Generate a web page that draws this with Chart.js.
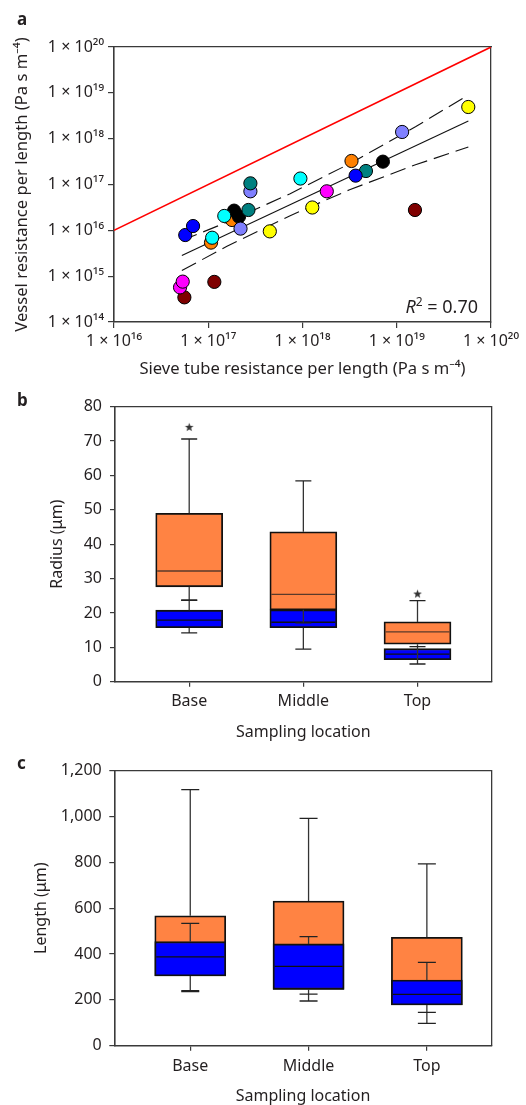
<!DOCTYPE html>
<html>
<head>
<meta charset="utf-8">
<title>Resistance per length and conduit dimensions</title>
<script src="https://cdn.jsdelivr.net/npm/chart.js@4.4.1/dist/chart.umd.min.js"></script>
<style>
  html, body { margin:0; padding:0; background:#fff; }
  body { width:526px; height:1105px; position:relative; overflow:hidden; }
  .panel { position:absolute; left:0; width:526px; }
  .panel canvas { display:block; }
  .tag { position:absolute; left:17px; font: bold 17px 'Noto Sans', sans-serif; color:#231f20; line-height:1; }
</style>
</head>
<body>
<div class="panel" style="top:0;height:385px"><canvas id="chartA" width="526" height="385"></canvas></div>
<div class="panel" style="top:385px;height:360px"><canvas id="chartB" width="526" height="360"></canvas></div>
<div class="panel" style="top:745px;height:360px"><canvas id="chartC" width="526" height="360"></canvas></div>
<div class="tag" style="top:10px">a</div>
<div class="tag" style="top:391px">b</div>
<div class="tag" style="top:754px">c</div>
<script>
// ---------------- Panel a data ----------------
const aXTickValues = [1e16, 1e17, 1e18, 1e19, 1e20];
const aXTickLabels = ['1 × 10¹⁶', '1 × 10¹⁷', '1 × 10¹⁸', '1 × 10¹⁹', '1 × 10²⁰'];
const aYTickValues = [1e14, 1e15, 1e16, 1e17, 1e18, 1e19, 1e20];
const aYTickLabels = ['1 × 10¹⁴', '1 × 10¹⁵', '1 × 10¹⁶', '1 × 10¹⁷', '1 × 10¹⁸', '1 × 10¹⁹', '1 × 10²⁰'];
const aXTitle = 'Sieve tube resistance per length (Pa s m⁻⁴)';
const aYTitle = 'Vessel resistance per length (Pa s m⁻⁴)';

const sieveOrange  = [1.07e17, 1.79e17, 3.31e18];
const vesselOrange = [5.4e15, 1.68e16, 3.26e17];
const sieveDarkRed  = [5.58e16, 1.16e17, 1.56e19];
const vesselDarkRed = [3.45e14, 7.5e14, 2.78e16];
const sieveBlack  = [1.88e17, 2.12e17, 7.13e18];
const vesselBlack = [2.69e16, 1.99e16, 3.15e17];
const sieveLilac  = [2.8e17, 2.2e17, 1.14e19];
const vesselLilac = [7.1e16, 1.09e16, 1.40e18];
const sieveTeal  = [2.67e17, 2.8e17, 4.71e18];
const vesselTeal = [2.78e16, 1.06e17, 1.97e17];
const sieveCyan  = [1.1e17, 1.48e17, 9.5e17];
const vesselCyan = [6.9e15, 2.06e16, 1.35e17];
const sieveMagenta  = [5.02e16, 5.36e16, 1.81e18];
const vesselMagenta = [5.7e14, 7.6e14, 7.1e16];
const sieveBlue  = [5.7e16, 6.9e16, 3.66e18];
const vesselBlue = [7.9e15, 1.24e16, 1.56e17];
const sieveYellow  = [4.5e17, 1.27e18, 5.74e19];
const vesselYellow = [9.5e15, 3.15e16, 4.91e18];

const identityX = [1e16, 1e20];
const identityY = [1e16, 1e20];
const fitX = [5.25e16, 5.75e19];
const fitY = [2.82e15, 2.43e18];
const bandX     = [5.25e16, 1.58e17, 7.4e17, 3.16e18, 1.58e19, 5.75e19];
const bandUpper = [6.0e15, 1.50e16, 6.32e16, 2.84e17, 1.82e18, 8.97e18];
const bandLower = [1.33e15, 4.48e15, 2.09e16, 7.69e16, 2.69e17, 6.58e17];
const r2Value = '0.70';

// ---------------- Panels b and c data ----------------
const categories = ['Base', 'Middle', 'Top'];
const samplingTitle = 'Sampling location';

const bTitle = 'Radius (μm)';
const bOrangeMin = [23.7, 17.1, 5.15];
const bOrangeQ1  = [27.6, 20.9, 10.9];
const bOrangeMed = [32.2, 25.4, 14.5];
const bOrangeQ3  = [49.0, 43.6, 17.4];
const bOrangeMax = [70.6, 58.4, 23.6];
const bBlueMin = [14.2, 9.5, 6.4];
const bBlueQ1  = [15.7, 15.7, 6.4];
const bBlueMed = [17.9, 17.3, 8.0];
const bBlueQ3  = [20.8, 20.9, 9.6];
const bBlueMax = [23.7, 20.9, 10.2];
const bOutlierCat = [0, 2];
const bOutlierVal = [74.0, 25.5];

const cTitle = 'Length (μm)';
const cTickValues = [0, 200, 400, 600, 800, 1000, 1200];
const cTickLabels = ['0', '200', '400', '600', '800', '1,000', '1,200'];
const cOrangeMin = [236, 195, 97.5];
const cOrangeQ1  = [304, 246, 177.5];
const cOrangeMed = [430, 420, 270];
const cOrangeQ3  = [567, 631, 473];
const cOrangeMax = [1117, 992, 793];
const cBlueMin = [240, 225, 145];
const cBlueQ1  = [304, 246, 177.5];
const cBlueMed = [388, 346, 224];
const cBlueQ3  = [454, 444, 286.5];
const cBlueMax = [534, 476, 364];

// ---------------- Styling ----------------
const FONT = "'Noto Sans', 'DejaVu Sans', sans-serif";
const TXT = '#231f20';
const AX = '#3a3a3a';
Chart.defaults.font.family = FONT;
Chart.defaults.color = TXT;
Chart.defaults.animation = false;

function frameAxes() {
  return {
    xTop: { position: 'top', type: 'linear', min: 0, max: 1, display: true,
      ticks: { display: false }, grid: { display: false },
      border: { display: true, color: AX, width: 1.3 }, afterFit: s => { s.height = 0; } },
    yRight: { position: 'right', type: 'linear', min: 0, max: 1, display: true,
      ticks: { display: false }, grid: { display: false },
      border: { display: true, color: AX, width: 1.3 }, afterFit: s => { s.width = 0; } }
  };
}

function pts(xs, ys) { return xs.map((x, i) => ({ x: x, y: ys[i] })); }

// ---------------- Panel a ----------------
const groups = [
  { xs: sieveOrange,  ys: vesselOrange,  color: '#FF8000' },
  { xs: sieveDarkRed, ys: vesselDarkRed, color: '#7F0000' },
  { xs: sieveBlack,   ys: vesselBlack,   color: '#000000' },
  { xs: sieveLilac,   ys: vesselLilac,   color: '#8080FF' },
  { xs: sieveTeal,    ys: vesselTeal,    color: '#008080' },
  { xs: sieveCyan,    ys: vesselCyan,    color: '#00FFFF' },
  { xs: sieveMagenta, ys: vesselMagenta, color: '#FF00FF' },
  { xs: sieveBlue,    ys: vesselBlue,    color: '#0000FF' },
  { xs: sieveYellow,  ys: vesselYellow,  color: '#FFFF00' }
];

const aDatasets = [
  { data: pts(identityX, identityY), showLine: true, borderColor: '#FF0000', borderWidth: 1.6, pointRadius: 0, fill: false, order: 40 },
  { data: pts(fitX, fitY), showLine: true, borderColor: '#111', borderWidth: 1.1, pointRadius: 0, fill: false, order: 39 },
  { data: pts(bandX, bandUpper), showLine: true, borderColor: '#111', borderWidth: 1.1, borderDash: [16, 7], pointRadius: 0, fill: false, order: 38 },
  { data: pts(bandX, bandLower), showLine: true, borderColor: '#111', borderWidth: 1.1, borderDash: [16, 7], pointRadius: 0, fill: false, order: 37 }
];
groups.forEach((g, k) => {
  aDatasets.push({ data: pts(g.xs, g.ys), backgroundColor: g.color, borderColor: '#000', borderWidth: 1,
    pointRadius: 6.6, pointHoverRadius: 6.6, order: 30 - k });
});

const r2Plugin = {
  id: 'r2label',
  afterDatasetsDraw(chart) {
    const { ctx, chartArea: a } = chart;
    ctx.save();
    ctx.fillStyle = TXT;
    ctx.textBaseline = 'alphabetic';
    const rest = ' = ' + r2Value;
    ctx.font = '18px ' + FONT;
    const wRest = ctx.measureText(rest).width;
    ctx.font = '12px ' + FONT;
    const wSup = ctx.measureText('2').width;
    ctx.font = 'italic 18px ' + FONT;
    const wR = ctx.measureText('R').width;
    const xEnd = a.right - 13, yBase = a.bottom - 9;
    let x = xEnd - wRest - wSup - wR;
    ctx.fillText('R', x, yBase); x += wR;
    ctx.font = '12px ' + FONT;
    ctx.fillText('2', x, yBase - 7); x += wSup;
    ctx.font = '18px ' + FONT;
    ctx.fillText(rest, x, yBase);
    ctx.restore();
  }
};

new Chart(document.getElementById('chartA'), {
  type: 'scatter',
  data: { datasets: aDatasets },
  plugins: [r2Plugin],
  options: {
    responsive: false, animation: false,
    layout: { autoPadding: false, padding: { left: 0, top: 47, right: 35, bottom: 0 } },
    plugins: { legend: { display: false }, tooltip: { enabled: false } },
    scales: Object.assign({
      x: { type: 'logarithmic', min: 1e16, max: 1e20,
        afterBuildTicks: s => { s.ticks = aXTickValues.map(v => ({ value: v })); },
        ticks: { callback: v => aXTickLabels[aXTickValues.indexOf(v)], font: { size: 16 }, color: TXT, padding: 4, maxRotation: 0, autoSkip: false },
        grid: { display: true, drawOnChartArea: false, drawTicks: true, tickLength: 6, color: AX, lineWidth: 1.2 },
        border: { display: true, color: AX, width: 1.6 },
        title: { display: true, text: aXTitle, color: TXT, font: { size: 16.6 }, padding: { top: 0, bottom: 6 } },
        afterFit: s => { s.height = 63; } },
      y: { type: 'logarithmic', min: 1e14, max: 1e20,
        afterBuildTicks: s => { s.ticks = aYTickValues.map(v => ({ value: v })); },
        ticks: { callback: v => aYTickLabels[aYTickValues.indexOf(v)], font: { size: 16 }, color: TXT, padding: 4, autoSkip: false },
        grid: { display: true, drawOnChartArea: false, drawTicks: true, tickLength: 6, color: AX, lineWidth: 1.2 },
        border: { display: true, color: AX, width: 1.6 },
        title: { display: true, text: aYTitle, color: TXT, font: { size: 16.6 }, padding: { top: 12, bottom: 0 } },
        afterFit: s => { s.width = 114; } }
    }, frameAxes())
  }
});

// ---------------- Box charts ----------------
function makeStar() {
  const c = document.createElement('canvas');
  c.width = 11; c.height = 11;
  const g = c.getContext('2d');
  g.fillStyle = '#333';
  g.beginPath();
  for (let i = 0; i < 10; i++) {
    const r = i % 2 === 0 ? 4.6 : 1.9;
    const ang = -Math.PI / 2 + i * Math.PI / 5;
    const px = 5.5 + r * Math.cos(ang), py = 5.5 + r * Math.sin(ang);
    if (i === 0) g.moveTo(px, py); else g.lineTo(px, py);
  }
  g.closePath();
  g.fill();
  return c;
}
const STAR = makeStar();

function boxChart(id, o) {
  const series = [o.orange, o.blue];
  const ds = [];
  series.forEach((s, k) => {
    ds.push({ type: 'bar', data: s.q1.map((q, i) => ({ x: i, y: [q, s.q3[i]] })),
      backgroundColor: s.color, borderColor: '#111', borderWidth: 1.8, borderSkipped: false,
      barThickness: o.boxWidth, grouped: false, order: 20 - 2 * k });
    ds.push({ type: 'line', data: s.med.map((m, i) => ({ x: i, y: m })), showLine: false,
      pointStyle: 'line', pointRadius: o.boxWidth / 2 - 1.5, pointHoverRadius: o.boxWidth / 2 - 1.5,
      pointBorderColor: s.medColor, pointBorderWidth: 1.3, order: 19 - 2 * k });
  });
  const seg = [], caps = [];
  series.forEach(s => s.q1.forEach((q, i) => {
    if (s.max[i] > s.q3[i]) {
      seg.push({ x: i, y: s.q3[i] }, { x: i, y: s.max[i] }, { x: i, y: null });
      caps.push({ x: i, y: s.max[i] });
    }
    if (s.min[i] < q) {
      seg.push({ x: i, y: q }, { x: i, y: s.min[i] }, { x: i, y: null });
      caps.push({ x: i, y: s.min[i] });
    }
  }));
  ds.push({ type: 'line', data: seg, showLine: true, spanGaps: false, borderColor: '#333', borderWidth: 1.3,
    pointRadius: 0, fill: false, order: 10 });
  ds.push({ type: 'line', data: caps, showLine: false, pointStyle: 'line', pointRadius: o.capHalf,
    pointHoverRadius: o.capHalf, pointBorderColor: '#222', pointBorderWidth: 1.3, order: 9 });
  if (o.outCat) {
    ds.push({ type: 'line', data: o.outCat.map((c, i) => ({ x: c, y: o.outVal[i] })), showLine: false,
      pointStyle: STAR, pointRadius: 5, order: 8 });
  }
  const yScale = { type: 'linear', min: o.yMin, max: o.yMax,
    ticks: { font: { size: 16 }, color: TXT, padding: o.yPad, autoSkip: false },
    grid: { display: true, drawOnChartArea: false, drawTicks: true, tickLength: 5, color: AX, lineWidth: 1.2 },
    border: { display: true, color: AX, width: 1.6 },
    title: { display: true, text: o.yTitle, color: TXT, font: { size: 16 }, padding: { top: o.yTitlePad, bottom: 0 } },
    afterFit: s => { s.width = o.left; } };
  if (o.yTickValues) {
    yScale.afterBuildTicks = s => { s.ticks = o.yTickValues.map(v => ({ value: v })); };
    yScale.ticks.callback = v => o.yTickLabels[o.yTickValues.indexOf(v)];
  } else {
    yScale.ticks.stepSize = o.yStep;
  }
  new Chart(document.getElementById(id), {
    type: 'bar',
    data: { datasets: ds },
    options: {
      responsive: false, animation: false,
      layout: { autoPadding: false, padding: { left: 0, top: o.top, right: o.right, bottom: 0 } },
      plugins: { legend: { display: false }, tooltip: { enabled: false } },
      scales: Object.assign({
        x: { type: 'linear', min: o.xMin, max: o.xMax, offset: false,
          afterBuildTicks: s => { s.ticks = categories.map((c, i) => ({ value: i })); },
          ticks: { callback: v => categories[v], font: { size: 16 }, color: TXT, padding: o.xPad, maxRotation: 0, autoSkip: false },
          grid: { display: true, offset: false, drawOnChartArea: false, drawTicks: true, tickLength: 5, color: AX, lineWidth: 1.2 },
          border: { display: true, color: AX, width: 1.6 },
          title: { display: true, text: samplingTitle, color: TXT, font: { size: 16 }, padding: { top: 0, bottom: o.xTitlePad } },
          afterFit: s => { s.height = o.xHeight; } },
        y: yScale
      }, frameAxes())
    }
  });
}

boxChart('chartB', {
  orange: { min: bOrangeMin, q1: bOrangeQ1, med: bOrangeMed, q3: bOrangeQ3, max: bOrangeMax, color: '#FF8343', medColor: '#5a3a2a' },
  blue:   { min: bBlueMin, q1: bBlueQ1, med: bBlueMed, q3: bBlueQ3, max: bBlueMax, color: '#0000FF', medColor: '#111' },
  outCat: bOutlierCat, outVal: bOutlierVal,
  yMin: 0, yMax: 80, yStep: 10, yTitle: bTitle,
  xMin: -0.65, xMax: 2.65, boxWidth: 67, capHalf: 8,
  left: 115, top: 21.7, right: 34.3, xHeight: 63.3,
  yPad: 8, xPad: 5.4, yTitlePad: 48, xTitlePad: 3
});

boxChart('chartC', {
  orange: { min: cOrangeMin, q1: cOrangeQ1, med: cOrangeMed, q3: cOrangeQ3, max: cOrangeMax, color: '#FF8343', medColor: '#5a3a2a' },
  blue:   { min: cBlueMin, q1: cBlueQ1, med: cBlueMed, q3: cBlueQ3, max: cBlueMax, color: '#0000FF', medColor: '#111' },
  yMin: 0, yMax: 1200, yTickValues: cTickValues, yTickLabels: cTickLabels, yTitle: cTitle,
  xMin: -0.642, xMax: 2.548, boxWidth: 71, capHalf: 9,
  left: 114.3, top: 25.7, right: 34.3, xHeight: 59.3,
  yPad: 7.6, xPad: 5.7, yTitlePad: 32, xTitlePad: -1.3
});
</script>
</body>
</html>
